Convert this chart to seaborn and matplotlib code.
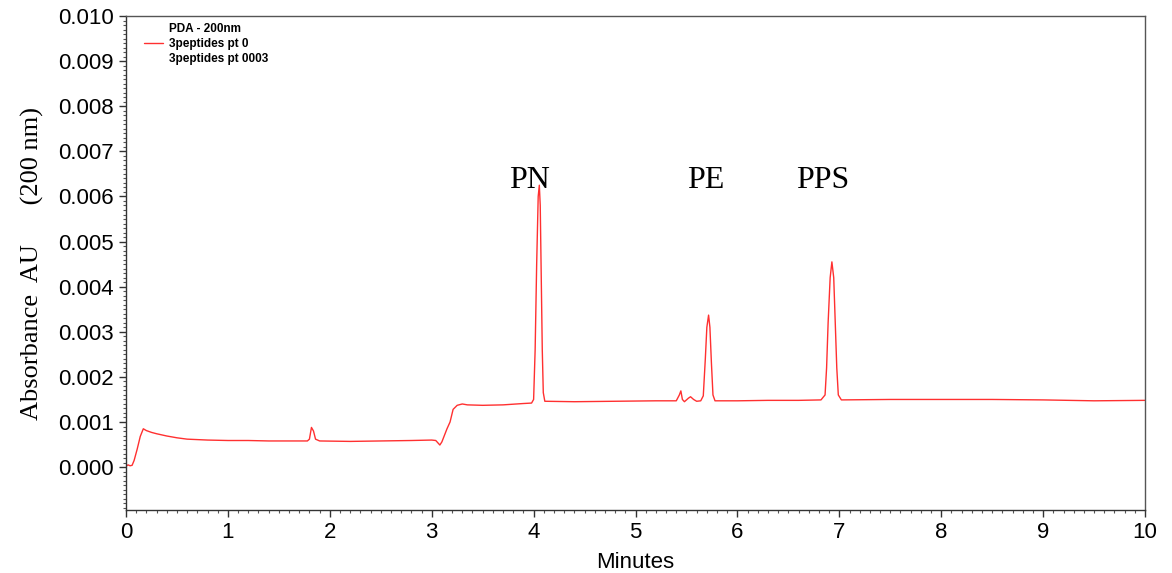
import matplotlib
matplotlib.use("Agg")
import matplotlib.pyplot as plt
from matplotlib.lines import Line2D
from matplotlib.ticker import MultipleLocator, FormatStrFormatter
import seaborn as sns
import pandas as pd

# Retention time (minutes) and absorbance (AU)
minutes = [0.00, 0.02, 0.04, 0.06, 0.08, 0.11, 0.14, 0.17, 0.20, 0.25, 0.30, 0.40, 0.50,
           0.60, 0.70, 0.80, 1.00, 1.20, 1.40, 1.60, 1.78, 1.80, 1.82, 1.84, 1.86, 1.90,
           2.20, 2.50, 2.80, 3.00, 3.04, 3.08, 3.10, 3.15, 3.18, 3.21, 3.25, 3.30, 3.35,
           3.50, 3.70, 3.90, 3.98, 4.00, 4.015, 4.03, 4.045, 4.056, 4.065, 4.075, 4.085,
           4.095, 4.11, 4.40, 4.80, 5.20, 5.40, 5.43, 5.445, 5.46, 5.48, 5.52, 5.54, 5.57,
           5.60, 5.64, 5.665, 5.685, 5.70, 5.717, 5.73, 5.745, 5.76, 5.78, 6.00, 6.30,
           6.60, 6.82, 6.86, 6.875, 6.89, 6.91, 6.927, 6.945, 6.96, 6.975, 6.99, 7.02,
           7.50, 8.00, 8.50, 9.00, 9.50, 10.00]
absorbance = [0.00002, 0.00005, 0.00003, 0.00004, 0.00015, 0.00040, 0.00068, 0.00085,
              0.00081, 0.00077, 0.00074, 0.00069, 0.00065, 0.00062, 0.00061, 0.00060,
              0.00059, 0.00059, 0.00058, 0.00058, 0.00058, 0.00062, 0.00088, 0.00080,
              0.00062, 0.00058, 0.00057, 0.00058, 0.00059, 0.00060, 0.00059, 0.00049,
              0.00056, 0.00085, 0.00100, 0.00128, 0.00137, 0.00140, 0.00138, 0.00137,
              0.00138, 0.00141, 0.00142, 0.00150, 0.00260, 0.00450, 0.00600, 0.00625,
              0.00580, 0.00420, 0.00260, 0.00165, 0.00146, 0.00145, 0.00146, 0.00147,
              0.00147, 0.00160, 0.00169, 0.00150, 0.00145, 0.00153, 0.00156, 0.00150,
              0.00146, 0.00147, 0.00158, 0.00240, 0.00310, 0.00337, 0.00310, 0.00230,
              0.00160, 0.00147, 0.00147, 0.00148, 0.00148, 0.00149, 0.00160, 0.00220,
              0.00320, 0.00420, 0.00455, 0.00420, 0.00320, 0.00220, 0.00160, 0.00149,
              0.00150, 0.00150, 0.00150, 0.00149, 0.00147, 0.00148]

peak_names = ["PN", "PE", "PPS"]
peak_label_x = [3.96, 5.69, 6.84]
peak_label_y = [0.00619, 0.00619, 0.00619]

legend_labels = ["PDA - 200nm", "3peptides pt 0", "3peptides pt 0003"]

sns.set_style("ticks")
plt.rcParams["font.family"] = ["Liberation Sans", "DejaVu Sans"]
plt.rcParams["text.color"] = "black"
plt.rcParams["axes.labelcolor"] = "black"

fig = plt.figure(figsize=(11.72, 5.73), dpi=100)
ax = fig.add_axes([0.1075, 0.110, 0.8695, 0.862])

df = pd.DataFrame({"Minutes": minutes, "AU": absorbance})
sns.lineplot(data=df, x="Minutes", y="AU", ax=ax, color="#ff3030", linewidth=1.0,
             estimator=None, sort=False)

ax.set_xlim(0, 10)
ax.set_ylim(-0.00095, 0.010)
ax.xaxis.set_major_locator(MultipleLocator(1))
ax.xaxis.set_minor_locator(MultipleLocator(0.1))
ax.yaxis.set_major_locator(MultipleLocator(0.001))
ax.yaxis.set_minor_locator(MultipleLocator(0.0001))
ax.yaxis.set_major_formatter(FormatStrFormatter("%.3f"))
ax.tick_params(axis="both", which="major", length=5, width=1, labelsize=16,
               colors="#333333", labelcolor="black", pad=4)
ax.tick_params(axis="both", which="minor", length=2, width=0.8, colors="#555555")
for s in ax.spines.values():
    s.set_color("#555555")
    s.set_linewidth(1.0)
ax.spines["left"].set_color("#333333")
ax.spines["bottom"].set_color("#333333")

ax.set_xlabel("Minutes", fontsize=16, labelpad=6)
ax.set_ylabel("Absorbance  AU      (200 nm)", fontsize=19, family="Liberation Serif",
              labelpad=10)

for name, x, y in zip(peak_names, peak_label_x, peak_label_y):
    ax.text(x, y, name, fontsize=23, family="Liberation Serif", ha="center",
            va="baseline", color="black")

handles = [Line2D([], [], color="none"),
           Line2D([], [], color="#ff3030", linewidth=1.0),
           Line2D([], [], color="none")]
leg = ax.legend(handles, legend_labels, loc="upper left", bbox_to_anchor=(0.01, 1.003),
                frameon=False, prop={"weight": "bold", "size": 8.5}, handlelength=1.6,
                handletextpad=0.45, labelspacing=0.28, borderaxespad=0.3)

fig.savefig("out.png", dpi=100)
